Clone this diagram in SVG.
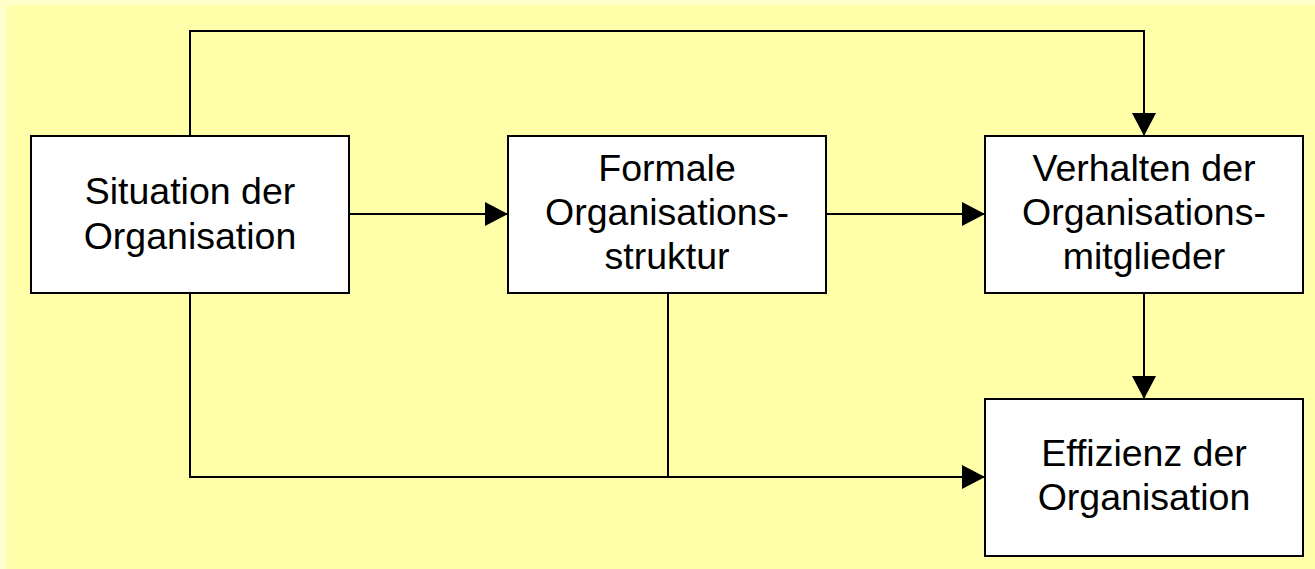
<svg xmlns="http://www.w3.org/2000/svg" width="1315" height="569" viewBox="0 0 1315 569">
  <style>
    .box { fill: #ffffff; stroke: #000000; stroke-width: 2; }
    .lbl { font-family: "Liberation Sans", Arial, sans-serif; font-size: 37.5px; fill: #000000; text-anchor: middle; }
    .wire { fill: none; stroke: #000000; stroke-width: 2; stroke-linejoin: miter; }
  </style>
  <defs>
    <marker id="arrow" markerUnits="userSpaceOnUse" viewBox="0 0 23 24" refX="23" refY="12" markerWidth="23" markerHeight="24" orient="auto">
      <path d="M0,0 L23,12 L0,24 Z" fill="#000000"/>
    </marker>
  </defs>

  <!-- backdrop -->
  <rect x="0" y="0" width="1315" height="569" fill="#ffffcc"/>
  <rect x="7" y="5" width="1308" height="564" fill="#ffffaa"/>

  <!-- connectors -->
  <g id="connectors">
    <path class="wire" d="M190,136 V31 H1144 V136" marker-end="url(#arrow)"/>
    <path class="wire" d="M349,214 H508" marker-end="url(#arrow)"/>
    <path class="wire" d="M826,214 H985" marker-end="url(#arrow)"/>
    <path class="wire" d="M1144,293 V399" marker-end="url(#arrow)"/>
    <path class="wire" d="M190,293 V477 H985" marker-end="url(#arrow)"/>
    <path class="wire" d="M668,291 V477" stroke-linecap="round"/>
  </g>

  <!-- nodes -->
  <g id="situation">
    <rect class="box" x="31" y="136" width="318" height="157"/>
    <text class="lbl" x="190" y="204">Situation der</text>
    <text class="lbl" x="190" y="249">Organisation</text>
  </g>
  <g id="struktur">
    <rect class="box" x="508" y="136" width="318" height="157"/>
    <text class="lbl" x="667" y="181">Formale</text>
    <text class="lbl" x="667" y="225">Organisations-</text>
    <text class="lbl" x="667" y="269">struktur</text>
  </g>
  <g id="verhalten">
    <rect class="box" x="985" y="136" width="318" height="157"/>
    <text class="lbl" x="1144" y="181">Verhalten der</text>
    <text class="lbl" x="1144" y="225">Organisations-</text>
    <text class="lbl" x="1144" y="269">mitglieder</text>
  </g>
  <g id="effizienz">
    <rect class="box" x="985" y="399" width="318" height="157"/>
    <text class="lbl" x="1144" y="466">Effizienz der</text>
    <text class="lbl" x="1144" y="510">Organisation</text>
  </g>
</svg>
